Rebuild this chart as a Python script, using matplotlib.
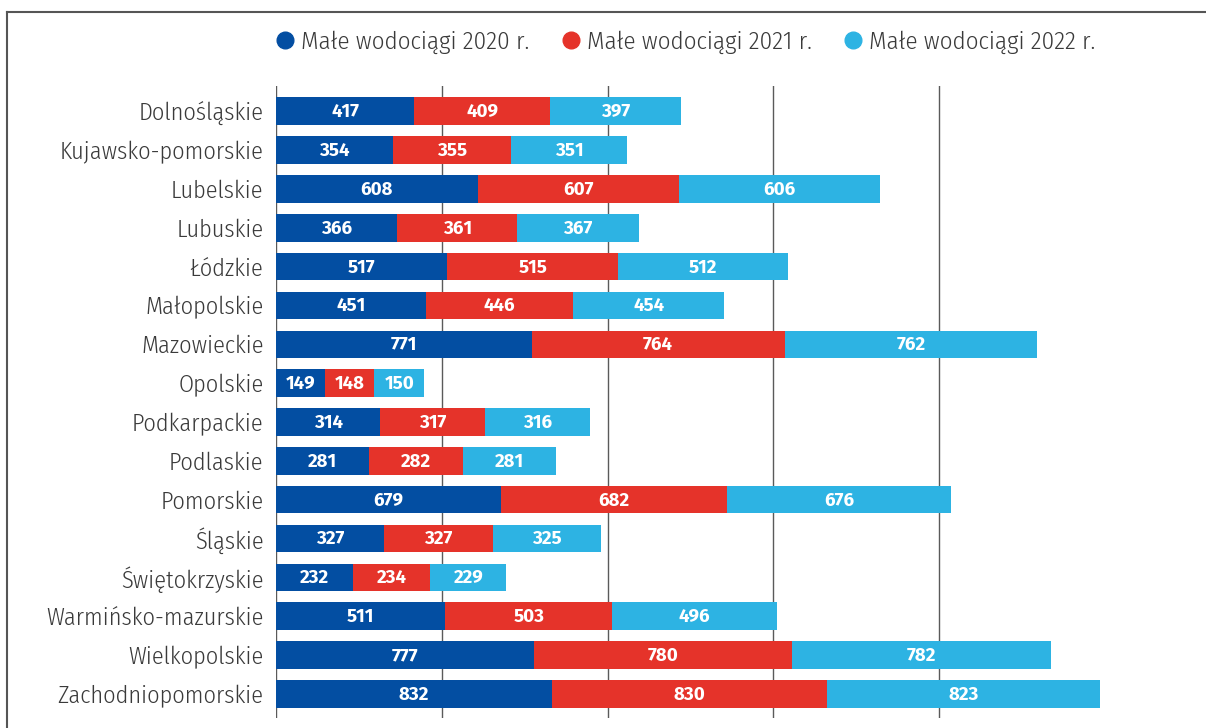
import matplotlib
matplotlib.use("Agg")
import matplotlib.pyplot as plt
from matplotlib.lines import Line2D

regions = ["Dolnośląskie", "Kujawsko-pomorskie", "Lubelskie", "Lubuskie", "Łódzkie",
           "Małopolskie", "Mazowieckie", "Opolskie", "Podkarpackie", "Podlaskie",
           "Pomorskie", "Śląskie", "Świętokrzyskie", "Warmińsko-mazurskie",
           "Wielkopolskie", "Zachodniopomorskie"]
v2020 = [417, 354, 608, 366, 517, 451, 771, 149, 314, 281, 679, 327, 232, 511, 777, 832]
v2021 = [409, 355, 607, 361, 515, 446, 764, 148, 317, 282, 682, 327, 234, 503, 780, 830]
v2022 = [397, 351, 606, 367, 512, 454, 762, 150, 316, 281, 676, 325, 229, 496, 782, 823]
series_names = ["Małe wodociągi 2020 r.", "Małe wodociągi 2021 r.", "Małe wodociągi 2022 r."]
colors = ["#034EA2", "#E5332A", "#2DB3E3"]
xticks = [0, 500, 1000, 1500, 2000]

FAM = ["Fira Sans Condensed", "DejaVu Sans"]
FAM_VAL = ["Fira Sans", "DejaVu Sans"]

W, H = 1206, 728
fig = plt.figure(figsize=(W / 100, H / 100), dpi=100)
ax = fig.add_axes([276 / W, (H - 718) / H, (W - 276) / W, 632 / H])

ypos = list(range(len(regions)))
left = [0] * len(regions)
for vals, c in zip([v2020, v2021, v2022], colors):
    ax.barh(ypos, vals, left=left, height=0.71, color=c, zorder=2)
    for y, l, v in zip(ypos, left, vals):
        ax.text(l + v / 2, y + 0.02, str(v), ha="center", va="center", color="white",
                fontsize=13.5, fontweight="bold", family=FAM_VAL, zorder=3)
    left = [a + b for a, b in zip(left, vals)]

ax.set_xlim(0, (W - 276) / 0.3315)
ax.set_ylim(len(regions) - 0.38, -0.65)
for x in xticks:
    ax.axvline(x, color="#5a5a5a", lw=1, zorder=1)
ax.set_yticks(ypos)
ax.set_yticklabels(regions, fontsize=17.5, family=FAM, fontweight=300, color="#3a3a3a")
ax.tick_params(axis="y", length=0, pad=9)
ax.set_xticks([])
for s in ax.spines.values():
    s.set_visible(False)

handles = [Line2D([], [], marker="o", ls="", color=c, markersize=12) for c in colors]
fig.legend(handles, series_names, loc="center", bbox_to_anchor=(686 / W, 1 - 42 / H),
           ncol=3, frameon=False, prop={"family": FAM, "size": 18, "weight": 300},
           handlelength=0.7, handletextpad=0.3, columnspacing=1.3, labelcolor="#3a3a3a")

# frame border
fig.add_artist(Line2D([7 / W, 7 / W], [0, 1 - 12 / H], color="#555555", lw=1.5,
                      transform=fig.transFigure))
fig.add_artist(Line2D([7 / W, 1], [1 - 12 / H, 1 - 12 / H], color="#555555", lw=1.5,
                      transform=fig.transFigure))

fig.savefig("out.png", dpi=100)
